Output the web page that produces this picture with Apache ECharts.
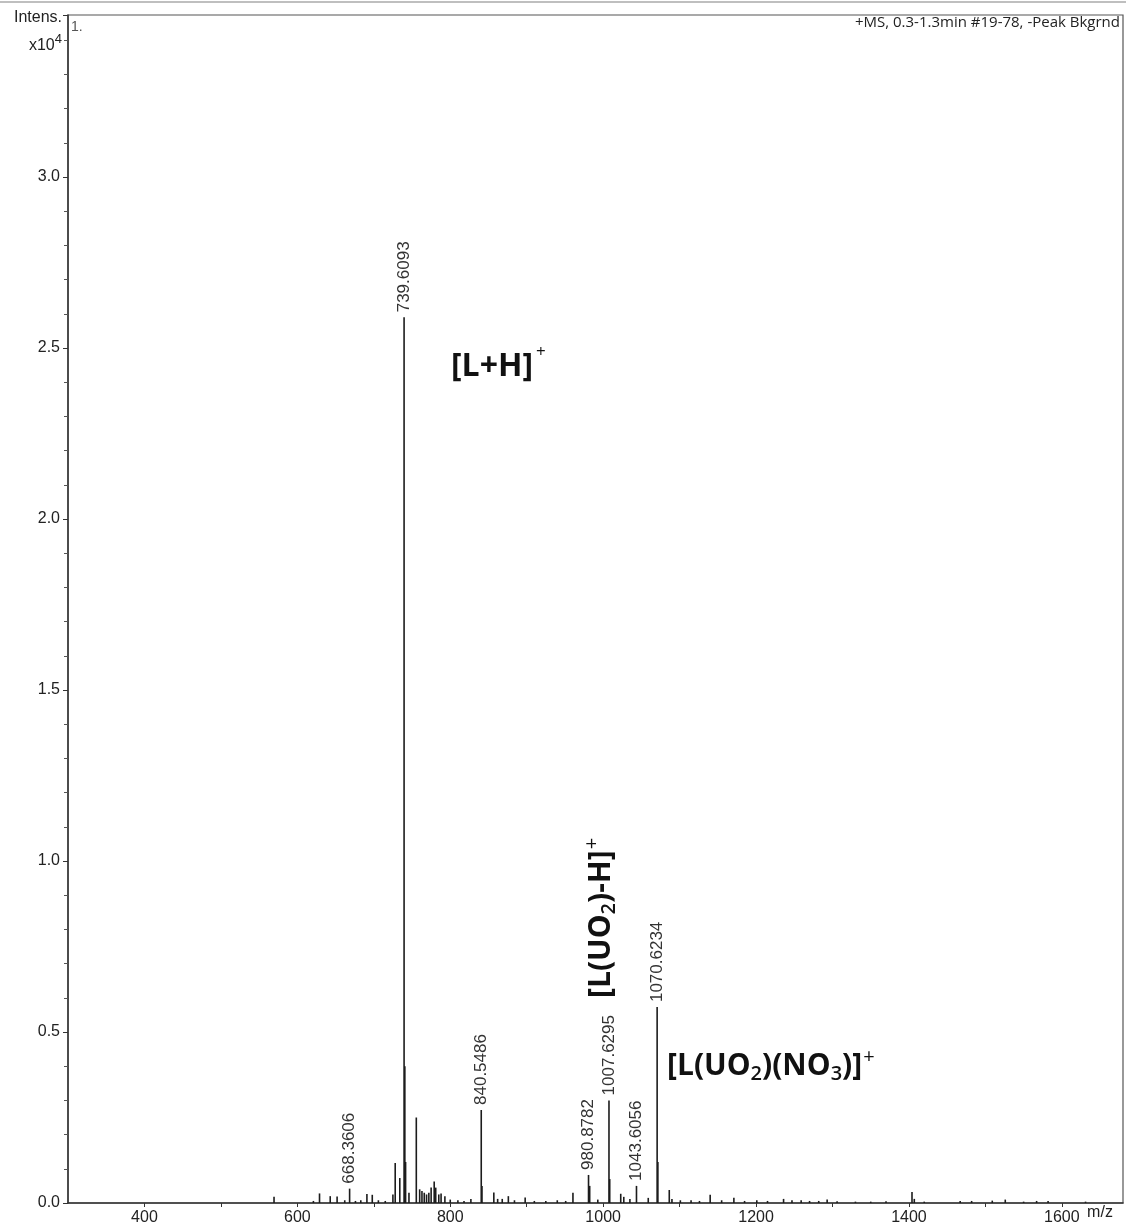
<!DOCTYPE html>
<html><head><meta charset="utf-8">
<script src="https://cdn.jsdelivr.net/npm/echarts@6/dist/echarts.min.js"></script>
<style>html,body{margin:0;padding:0;background:#fff}#c{width:1126px;height:1227px}</style>
</head><body><div id="c"></div>
<script>
// ---- data (m/z, intensity x10^4) ----
const labeledPeaks = [
  [668.3606, 0.042],
  [739.6093, 2.59],
  [840.5486, 0.272],
  [980.8782, 0.082],
  [1007.6295, 0.30],
  [1043.6056, 0.050],
  [1070.6234, 0.573]
];
const peakLabels = ['668.3606','739.6093','840.5486','980.8782','1007.6295','1043.6056','1070.6234'];
const minorPeaks = [
  [569.5,0.018],[621,0.006],[629,0.028],[643,0.020],[652,0.019],[662,0.008],[676,0.006],
  [683,0.008],[691,0.026],[698,0.024],[706,0.008],[715,0.006],[725,0.025],[728,0.117],
  [734,0.073],[740.6,0.4],[741.6,0.12],[746,0.03],[755.6,0.25],[760,0.040],[763,0.035],[766,0.030],
  [769,0.025],[772,0.030],[775,0.045],[779,0.063],[781,0.045],[785,0.025],[788,0.028],
  [793,0.020],[800,0.010],[810,0.008],[818,0.006],[827,0.012],[841.5,0.05],[857,0.031],[862,0.012],
  [868,0.012],[876,0.020],[884,0.008],[898,0.016],[910,0.006],[925,0.006],[940,0.008],
  [951,0.006],[960.5,0.030],[982.4,0.050],[993,0.010],[1008.6,0.07],[1023,0.027],[1027,0.018],
  [1035,0.012],[1059,0.015],[1071.6,0.12],[1086.5,0.038],[1090,0.012],[1101,0.008],[1115,0.008],
  [1126,0.006],[1140,0.024],[1155,0.008],[1171,0.015],[1185,0.006],[1201,0.008],
  [1215,0.006],[1236,0.012],[1247,0.008],[1259,0.008],[1270,0.006],[1282,0.006],
  [1293,0.010],[1306,0.005],[1330,0.004],[1350,0.004],[1370,0.005],[1404,0.032],
  [1407,0.012],[1420,0.004],[1467,0.006],[1482,0.006],[1509,0.007],[1526,0.010],
  [1550,0.004],[1567,0.006],[1582,0.006],[1631,0.004]
];
const xTickLabels = [400, 600, 800, 1000, 1200, 1400, 1600];
const yTickLabels = ['0.0','0.5','1.0','1.5','2.0','2.5','3.0'];

const chart = echarts.init(document.getElementById('c'), null, {renderer:'canvas'});

const barData = minorPeaks.map(p => ({value: p}));
labeledPeaks.forEach((p, i) => barData.push({value: p, label: {show: true, formatter: peakLabels[i]}}));

const mctx = document.createElement('canvas').getContext('2d');
function textRun(parts, x, y, rotation, family, k, color) {
  let cx = 0; const children = [];
  parts.forEach(p => {
    const font = (p.w || 'bold') + ' ' + p.s + 'px ' + family;
    mctx.font = font;
    const w = mctx.measureText(p.t).width;
    children.push({type: 'text', x: cx, y: (p.dy || 0) - k * p.s,
      style: {text: p.t, font: font, fill: color, align: 'left', verticalAlign: 'middle'}});
    cx += w + (p.gap || 0);
  });
  return {type: 'group', x: x, y: y, rotation: rotation || 0, children: children};
}
const OS = '"Open Sans"', LS = '"Liberation Sans"';

// y-axis label "Intens. x10^4" right aligned
mctx.font = 'normal 16px ' + LS;
const wX10 = mctx.measureText('x10').width;
mctx.font = 'normal 13px ' + LS;
const w4 = mctx.measureText('4').width;
const intensGroup = textRun([{t:'x10', s:16, w:'normal'}, {t:'4', s:13, w:'normal', dy:-7}],
  62 - wX10 - w4, 51, 0, LS, 0.35, '#222');

const ann1 = textRun([
  {t:'[L+H]', s:32, gap:3},
  {t:'+', s:17, w:'normal', dy:-20}
], 451, 379, 0, OS, 0.39, '#111');
const ann2 = textRun([
  {t:'[L(UO', s:30}, {t:'2', s:20, w:'600', dy:4}, {t:')(NO', s:30}, {t:'3', s:20, w:'600', dy:4},
  {t:')]', s:30, gap:1}, {t:'+', s:20, w:'normal', dy:-13}
], 667, 1078, 0, OS, 0.39, '#111');
const ann3 = textRun([
  {t:'[L(UO', s:30}, {t:'2', s:20, w:'600', dy:4}, {t:')-H]', s:30, gap:1}, {t:'+', s:20, w:'normal', dy:-13}
], 613, 998, Math.PI / 2, OS, 0.39, '#111');

const option = {
  animation: false,
  backgroundColor: '#fff',
  grid: {left: 68, right: 3, top: 15, bottom: 24, show: true, borderColor: '#555', borderWidth: 1.2},
  xAxis: {
    type: 'value', min: 300, max: 1680, interval: 100,
    axisLine: {show: true, onZero: false, lineStyle: {color: '#333', width: 1.5}},
    axisTick: {show: true, length: 4, lineStyle: {color: '#333'}},
    splitLine: {show: false},
    axisLabel: {
      showMaxLabel: false, showMinLabel: false,
      formatter: v => (xTickLabels.indexOf(v) >= 0 ? String(v) : ''),
      fontFamily: LS, fontSize: 16, color: '#222', margin: 7
    }
  },
  yAxis: {
    type: 'value', min: 0, max: 3.474, interval: 0.5,
    axisLine: {show: true, lineStyle: {color: '#333', width: 1.5}},
    axisTick: {show: true, length: 5, lineStyle: {color: '#333'}},
    minorTick: {show: true, splitNumber: 5, length: 4, lineStyle: {color: '#555'}},
    splitLine: {show: false},
    axisLabel: {
      showMaxLabel: false,
      formatter: v => { const i = Math.round(v / 0.5); return yTickLabels[i] || ''; },
      fontFamily: LS, fontSize: 16, color: '#222', margin: 8
    }
  },
  series: [{
    type: 'bar',
    data: barData,
    barWidth: 1.6,
    itemStyle: {color: '#1c1c1c'},
    label: {
      show: false, position: 'top', rotate: 90, align: 'left', verticalAlign: 'middle',
      distance: 5, fontFamily: LS, fontSize: 17, color: '#333'
    }
  }],
  graphic: [
    {type: 'line', shape: {x1: 0, y1: 2, x2: 1126, y2: 2}, style: {stroke: '#aaa', lineWidth: 1.5}},
    {type: 'text', x: 62, y: 18, style: {text: 'Intens.', font: 'normal 16px ' + LS, fill: '#222', align: 'right', verticalAlign: 'middle'}},
    intensGroup,
    {type: 'text', x: 71, y: 27, style: {text: '1.', font: 'normal 14px ' + LS, fill: '#555', align: 'left', verticalAlign: 'middle'}},
    {type: 'text', x: 1120, y: 23, style: {text: '+MS, 0.3-1.3min #19-78, -Peak Bkgrnd', font: 'normal 15px ' + OS, fill: '#222', align: 'right', verticalAlign: 'middle'}},
    {type: 'text', x: 1100, y: 1213, style: {text: 'm/z', font: 'normal 16px ' + LS, fill: '#222', align: 'center', verticalAlign: 'middle'}},
    ann1, ann2, ann3
  ]
};
chart.setOption(option);
</script>
</body></html>
